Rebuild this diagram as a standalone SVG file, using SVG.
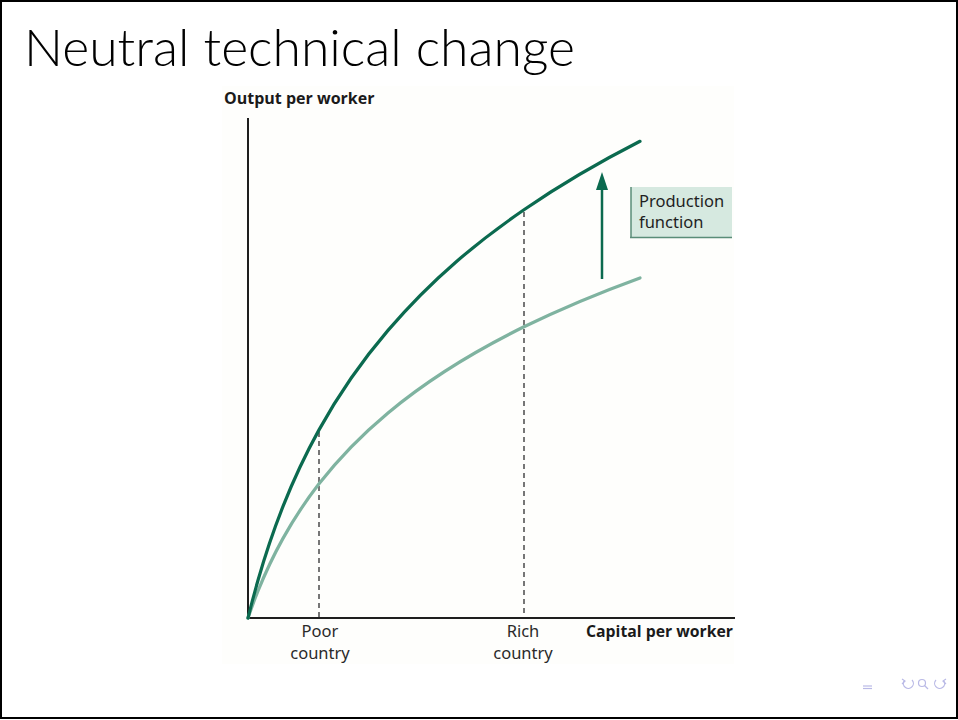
<svg xmlns="http://www.w3.org/2000/svg" width="958" height="720" viewBox="0 0 958 720">
  <style>
    .axis { stroke: #1e1e1e; stroke-width: 2; fill: none; }
    .guide { stroke: #4a4a4a; stroke-width: 1.5; stroke-dasharray: 5 4; fill: none; }
    .curve { fill: none; stroke-width: 3.2; stroke-linejoin: round; stroke-linecap: round; }
    .axlabel { font-family: "Open Sans", "Noto Sans", "Liberation Sans", sans-serif; font-weight: bold; font-size: 16px; fill: #1a1a1a; }
    .tick { font-family: "Noto Sans", "Liberation Sans", sans-serif; font-size: 16.5px; fill: #2a2a2a; text-anchor: middle; }
    .box { font-family: "Noto Sans", "Liberation Sans", sans-serif; font-size: 16.5px; fill: #1f1f1f; }
    .nav { fill: none; stroke: #b9b9e6; stroke-width: 1.2; }
  </style>
  <defs>
    <marker id="head" viewBox="0 0 18 12" refX="5" refY="6" markerWidth="18" markerHeight="12" markerUnits="userSpaceOnUse" orient="auto">
      <path d="M0 0 L18 6 L0 12 Z" fill="#0b6a4f"/>
    </marker>
  </defs>

  <!-- page -->
  <rect x="0" y="0" width="958" height="720" fill="#ffffff"/>
  <rect x="1" y="1" width="956" height="717" fill="none" stroke="#000" stroke-width="2"/>

  <!-- title -->
  <text x="24" y="66" font-family="Lato, 'Open Sans', 'Liberation Sans', sans-serif" font-weight="300" font-size="51" fill="#000" textLength="551" lengthAdjust="spacingAndGlyphs">Neutral technical change</text>

  <!-- figure panel -->
  <rect x="222" y="86" width="512" height="578" fill="#fefefc"/>

  <g id="axes">
    <line class="axis" x1="248" y1="118" x2="248" y2="619"/>
    <line class="axis" x1="247" y1="618" x2="735" y2="618"/>
    <text class="axlabel" x="224" y="104">Output per worker</text>
    <text class="axlabel" x="586" y="637" textLength="147" lengthAdjust="spacingAndGlyphs">Capital per worker</text>
  </g>

  <g id="connectors">
    <line class="guide" x1="319" y1="432" x2="319" y2="617"/>
    <line class="guide" x1="524" y1="212" x2="524" y2="617"/>
    <line x1="602" y1="279" x2="602" y2="185" stroke="#0b6a4f" stroke-width="2.5" marker-end="url(#head)"/>
  </g>

  <!-- production function before the shift -->
  <g id="curve-low">
    <path class="curve" stroke="#7fb3a0" d="M248,618 C251.33,608.22 254.67,599.29 258,591 C266.33,570.28 274.67,553.4 283,538.4 C295,516.8 307,499.26 319,483.8 C342,454.18 365,432.07 388,412.9 C433.33,375.12 478.67,349.08 524,326.8 C562.67,307.79 601.33,291.98 640,277.9"/>
  </g>

  <!-- production function after the shift -->
  <g id="curve-high">
    <path class="curve" stroke="#0b6a4f" d="M248,618 C251.33,604.29 254.67,591.82 258,580.2 C266.33,551.15 274.67,527.43 283,506.4 C295,476.12 307,451.57 319,429.9 C342,388.36 365,357.26 388,330.4 C433.33,277.45 478.67,241.03 524,209.8 C562.67,183.16 601.33,161.04 640,141.3"/>
  </g>

  <g id="poor">
    <text class="tick" x="320" y="637">Poor</text>
    <text class="tick" x="320" y="659">country</text>
  </g>

  <g id="rich">
    <text class="tick" x="523" y="637">Rich</text>
    <text class="tick" x="523" y="659">country</text>
  </g>

  <g id="label-box">
    <rect x="631" y="187" width="101" height="50" fill="#d6e9e0"/>
    <line x1="631" y1="187" x2="631" y2="238" stroke="#5a8d78" stroke-width="1.5"/>
    <line x1="630" y1="237.5" x2="732" y2="237.5" stroke="#5a8d78" stroke-width="1.5"/>
    <text class="box" x="639" y="207">Production</text>
    <text class="box" x="639" y="228">function</text>
  </g>

  <!-- navigation symbols -->
  <g id="nav">
    <line class="nav" x1="863" y1="686" x2="872" y2="686"/>
    <line class="nav" x1="863" y1="688.5" x2="872" y2="688.5"/>
    <path class="nav" d="M904 681 A5 5 0 1 0 912 680"/>
    <path class="nav" d="M902 679 L905 681 L902 684"/>
    <circle class="nav" cx="922" cy="683" r="3.5"/>
    <line class="nav" x1="924.5" y1="685.5" x2="928" y2="689"/>
    <path class="nav" d="M944 681 A5 5 0 1 1 936 680"/>
    <path class="nav" d="M946 679 L943 681 L946 684"/>
  </g>
</svg>
